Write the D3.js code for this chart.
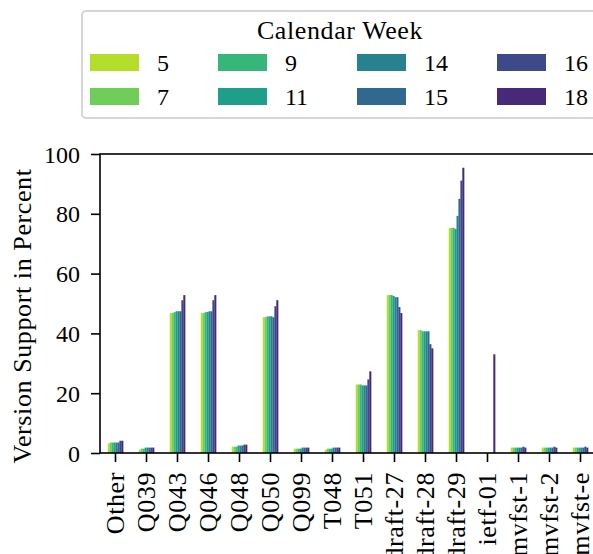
<!DOCTYPE html>
<html>
<head>
<meta charset="utf-8">
<script src="https://cdn.jsdelivr.net/npm/d3@7"></script>
<style>
  body { margin: 0; background: #fff; }
  text { font-family: "Liberation Serif", serif; fill: #000; }
  .word { font-size: 26px; letter-spacing: 0.6px; }
</style>
</head>
<body>
<script>
// Data
const categories = ["Other", "Q039", "Q043", "Q046", "Q048", "Q050", "Q099", "T048",
  "T051", "draft-27", "draft-28", "draft-29", "ietf-01", "mvfst-1", "mvfst-2", "mvfst-e"];
const weeks = ["5", "7", "9", "11", "14", "15", "16", "18"];

// one array per category, values for each week in order
const vOther = [3.2, 3.5, 3.5, 3.5, 3.5, 3.5, 4.1, 4.1];
const vQ039 = [1.1, 1.45, 1.45, 1.8, 1.8, 1.8, 1.8, 1.8];
const vQ043 = [46.8, 46.8, 47.1, 47.4, 47.4, 47.4, 51.1, 52.8];
const vQ046 = [46.8, 46.8, 47.1, 47.2, 47.4, 47.4, 51.1, 52.8];
const vQ048 = [2.1, 2.1, 2.1, 2.5, 2.5, 2.5, 2.8, 2.8];
const vQ050 = [45.4, 45.4, 45.7, 45.7, 45.7, 45.4, 49.1, 51.1];
const vQ099 = [1.45, 1.45, 1.45, 1.45, 1.8, 1.8, 1.8, 1.8];
const vT048 = [1.1, 1.45, 1.45, 1.45, 1.8, 1.8, 1.8, 1.8];
const vT051 = [22.9, 22.9, 22.9, 22.6, 22.6, 22.6, 24.6, 27.3];
const vDraft27 = [52.8, 52.8, 52.8, 52.5, 52.1, 52.1, 48.8, 46.8];
const vDraft28 = [41.1, 41.1, 40.7, 40.7, 40.7, 40.7, 36.4, 35.0];
const vDraft29 = [75.3, 75.3, 75.3, 74.9, 79.3, 85.0, 91.1, 95.4];
const vIetf01 = [0, 0, 0, 0, 0, 0, 0, 33.0];
const vMvfst1 = [1.8, 1.8, 1.8, 1.8, 1.8, 1.8, 2.1, 1.8];
const vMvfst2 = [1.8, 1.8, 1.8, 1.8, 1.8, 1.8, 2.1, 1.8];
const vMvfstE = [1.8, 1.8, 1.8, 1.8, 1.8, 1.8, 2.1, 1.8];

const yTicks = [0, 20, 40, 60, 80, 100];

const values = [vOther, vQ039, vQ043, vQ046, vQ048, vQ050, vQ099, vT048, vT051,
  vDraft27, vDraft28, vDraft29, vIetf01, vMvfst1, vMvfst2, vMvfstE];

const colors = ["#b5de2b", "#6ece58", "#35b779", "#1f9e89", "#26828e", "#31688e", "#3e4989", "#482878"];

// layout
const W = 593, H = 554;
const plot = { left: 100, right: 596, top: 154, bottom: 453 };
const fontSize = 24;

const svg = d3.select("body").append("svg")
  .attr("width", W)
  .attr("height", H);

const x = d3.scaleBand()
  .domain(categories)
  .range([plot.left, plot.right])
  .paddingInner(0.5)
  .paddingOuter(0.25);

const xSub = d3.scaleBand()
  .domain(weeks)
  .range([0, x.bandwidth()])
  .padding(0);

const y = d3.scaleLinear().domain([0, 100]).range([plot.bottom, plot.top]);

const color = d3.scaleOrdinal().domain(weeks).range(colors);

// bars
const groups = svg.append("g")
  .selectAll("g")
  .data(categories)
  .join("g")
  .attr("transform", (d) => "translate(" + x(d) + ",0)");

groups.selectAll("rect")
  .data((d, i) => weeks.map((w, j) => ({ week: w, value: values[i][j] })))
  .join("rect")
  .attr("x", (d) => xSub(d.week))
  .attr("y", (d) => y(d.value))
  .attr("width", xSub.bandwidth() + 0.1)
  .attr("height", (d) => plot.bottom - y(d.value))
  .attr("fill", (d) => color(d.week));

// axes
const xAxis = svg.append("g")
  .attr("transform", "translate(0," + plot.bottom + ")")
  .call(d3.axisBottom(x).tickSize(9).tickPadding(10).tickSizeOuter(0));

xAxis.selectAll("text")
  .attr("class", "word")
  .attr("transform", "rotate(-90)")
  .attr("x", -19)
  .attr("y", 0)
  .attr("dy", "0.34em")
  .style("text-anchor", "end")
  .style("font-size", null);

const yAxis = svg.append("g")
  .attr("transform", "translate(" + plot.left + ",0)")
  .call(d3.axisLeft(y).tickValues(yTicks).tickSize(9).tickPadding(11).tickSizeOuter(0));

yAxis.selectAll("text").style("font-size", fontSize + "px").attr("dy", "0.34em");

svg.selectAll(".domain").remove();
svg.selectAll(".tick line").attr("stroke", "#000").attr("stroke-width", 1.6);

// frame
svg.append("rect")
  .attr("x", plot.left)
  .attr("y", plot.top)
  .attr("width", plot.right - plot.left)
  .attr("height", plot.bottom - plot.top)
  .attr("fill", "none")
  .attr("stroke", "#000")
  .attr("stroke-width", 1.6);

// y label
svg.append("text")
  .attr("class", "word")
  .attr("transform", "translate(31,316) rotate(-90)")
  .attr("text-anchor", "middle")
  .text("Version Support in Percent");

// legend
const legend = svg.append("g");

legend.append("rect")
  .attr("x", 82)
  .attr("y", 11)
  .attr("width", 530)
  .attr("height", 107)
  .attr("rx", 4)
  .attr("fill", "#fff")
  .attr("stroke", "#d6d6d6")
  .attr("stroke-width", 2);

legend.append("text")
  .attr("class", "word")
  .attr("x", 340)
  .attr("y", 39)
  .attr("text-anchor", "middle")
  .text("Calendar Week");

const colX = [90, 218, 357, 497];
const rowY = [54, 88];

const items = legend.selectAll(".item")
  .data(weeks)
  .join("g")
  .attr("class", "item")
  .attr("transform", (d, i) => "translate(" + colX[Math.floor(i / 2)] + "," + rowY[i % 2] + ")");

items.append("rect")
  .attr("width", 49)
  .attr("height", 17)
  .attr("fill", (d) => color(d));

items.append("text")
  .attr("x", 67)
  .attr("y", 17)
  .style("font-size", fontSize + "px")
  .text((d) => d);
</script>
</body>
</html>
